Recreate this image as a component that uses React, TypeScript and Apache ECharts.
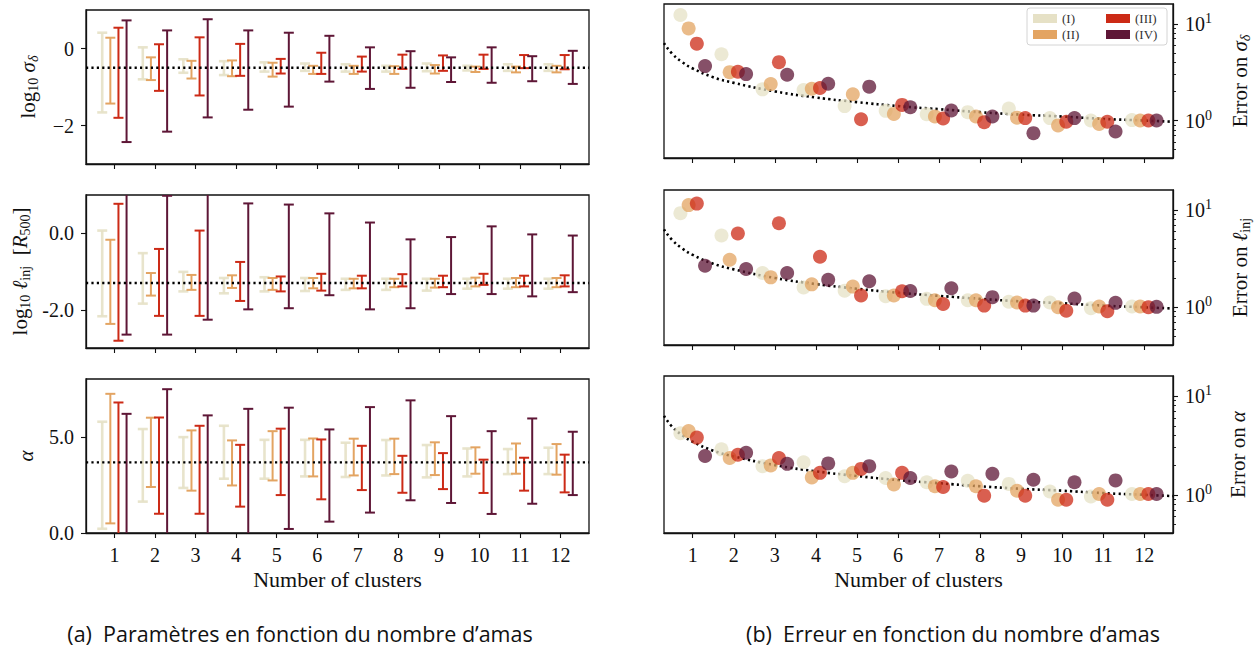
import React, { useEffect, useRef } from 'react';
import * as echarts from 'echarts';

// ---------------- DATA ----------------
const clusters = [1, 2, 3, 4, 5, 6, 7, 8, 9, 10, 11, 12];
const seriesNames = ['(I)', '(II)', '(III)', '(IV)'];
const dodge = [-0.3, -0.1, 0.1, 0.3];

// left (a): [low, high] error bars per number of clusters
const sigmaI = [[-1.66, 0.41], [-0.8, 0.03], [-0.63, -0.28], [-0.69, -0.33], [-0.6, -0.36], [-0.58, -0.39], [-0.6, -0.41], [-0.6, -0.45], [-0.59, -0.39], [-0.57, -0.45], [-0.58, -0.41], [-0.58, -0.41]];
const sigmaII = [[-1.43, 0.28], [-0.82, -0.23], [-0.78, -0.32], [-0.72, -0.31], [-0.73, -0.37], [-0.66, -0.45], [-0.66, -0.45], [-0.66, -0.46], [-0.65, -0.43], [-0.61, -0.47], [-0.62, -0.47], [-0.62, -0.45]];
const sigmaIII = [[-1.8, 0.54], [-1.1, 0.11], [-1.22, 0.29], [-0.71, 0.12], [-0.65, -0.27], [-0.66, -0.11], [-0.6, -0.21], [-0.53, -0.16], [-0.58, -0.18], [-0.53, -0.16], [-0.51, -0.17], [-0.54, -0.17]];
const sigmaIV = [[-2.43, 0.73], [-2.16, 0.47], [-1.79, 0.76], [-1.59, 0.47], [-1.51, 0.41], [-0.86, 0.33], [-1.05, 0.03], [-1.02, -0.07], [-0.87, -0.23], [-0.89, 0.03], [-0.85, -0.2], [-0.92, -0.06]];
const sigmaTrue = -0.5;

const linjI = [[-2.17, 0.07], [-1.84, -0.52], [-1.52, -1.01], [-1.57, -1.17], [-1.52, -1.15], [-1.51, -1.17], [-1.48, -1.19], [-1.48, -1.19], [-1.5, -1.19], [-1.45, -1.19], [-1.45, -1.19], [-1.45, -1.19]];
const linjII = [[-2.37, -0.17], [-1.63, -1.04], [-1.48, -1.09], [-1.43, -1.1], [-1.48, -1.17], [-1.44, -1.17], [-1.44, -1.19], [-1.41, -1.19], [-1.42, -1.19], [-1.39, -1.16], [-1.41, -1.17], [-1.41, -1.17]];
const linjIII = [[-2.81, 0.77], [-2.16, -0.41], [-2.16, 0.07], [-1.77, -0.75], [-1.52, -1.13], [-1.5, -1.06], [-1.44, -1.11], [-1.39, -1.07], [-1.41, -1.11], [-1.35, -1.06], [-1.39, -1.11], [-1.39, -1.1]];
const linjIV = [[-2.65, 1.3], [-2.65, 0.98], [-2.26, 1.2], [-1.99, 0.78], [-1.96, 0.75], [-1.62, 0.52], [-1.99, 0.28], [-1.96, -0.16], [-1.59, -0.1], [-1.59, 0.18], [-1.65, -0.03], [-1.54, -0.06]];
const linjTrue = -1.3;

const alphaI = [[0.22, 5.78], [1.63, 5.4], [2.34, 4.98], [2.82, 5.57], [2.82, 4.84], [2.94, 4.84], [2.91, 4.69], [2.99, 4.83], [2.89, 4.57], [2.94, 4.39], [3.06, 4.36], [3.06, 4.43]];
const alphaII = [[0.5, 7.23], [2.39, 5.99], [2.2, 5.33], [2.47, 4.81], [2.73, 5.29], [2.94, 4.91], [2.99, 4.9], [3.06, 4.9], [3.01, 4.71], [3.08, 4.45], [3.08, 4.65], [3.03, 4.62]];
const alphaIII = [[-0.3, 6.78], [1.0, 6.0], [1.0, 5.57], [1.37, 4.58], [1.97, 5.42], [1.75, 4.86], [2.23, 4.53], [2.09, 4.01], [2.28, 4.15], [2.08, 3.81], [2.2, 3.91], [2.11, 4.07]];
const alphaIV = [[-0.5, 6.19], [-0.5, 7.47], [-0.4, 6.11], [-0.3, 6.45], [0.21, 6.51], [0.59, 5.38], [1.06, 6.54], [1.7, 6.89], [1.56, 6.07], [0.99, 5.29], [1.52, 5.95], [1.97, 5.26]];
const alphaTrue = 3.67;

// right (b): relative errors
const errSigmaI = [12.3, 4.84, 2.1, 2.07, 1.41, 1.26, 1.16, 1.22, 1.33, 1.06, 1.0, 1.01];
const errSigmaII = [8.95, 3.16, 2.38, 2.13, 1.87, 1.17, 1.1, 1.1, 1.07, 0.89, 0.92, 1.0];
const errSigmaIII = [6.23, 3.19, 4.01, 2.17, 1.03, 1.45, 1.05, 0.96, 1.06, 0.97, 0.97, 1.0];
const errSigmaIV = [3.65, 3.02, 2.97, 2.4, 2.24, 1.37, 1.27, 1.1, 0.74, 1.06, 0.77, 1.0];

const errLinjI = [9.25, 5.46, 2.25, 1.6, 1.48, 1.3, 1.22, 1.18, 1.14, 1.12, 0.98, 1.02];
const errLinjII = [11.2, 3.08, 2.03, 1.72, 1.63, 1.32, 1.18, 1.18, 1.12, 1.0, 1.02, 1.02];
const errLinjIII = [11.6, 5.72, 7.3, 3.3, 1.32, 1.46, 1.08, 1.04, 1.04, 0.92, 0.91, 1.0];
const errLinjIV = [2.67, 2.47, 2.25, 1.92, 1.85, 1.47, 1.57, 1.27, 1.04, 1.23, 1.11, 1.01];

const errAlphaI = [4.21, 2.89, 1.95, 2.14, 1.54, 1.48, 1.34, 1.39, 1.29, 1.08, 0.96, 1.02];
const errAlphaII = [4.42, 2.36, 1.98, 1.5, 1.67, 1.27, 1.22, 1.22, 1.1, 0.89, 1.02, 1.02];
const errAlphaIII = [3.8, 2.55, 2.36, 1.67, 1.83, 1.67, 1.2, 0.98, 0.98, 0.89, 0.89, 1.02];
const errAlphaIV = [2.47, 2.67, 2.06, 2.08, 1.95, 1.48, 1.72, 1.63, 1.42, 1.34, 1.4, 1.02];

// dotted reference curve
const refCurveX = [0.3, 0.5, 0.75, 1, 1.5, 2, 3, 4, 5, 6, 7, 8, 9, 10, 11, 12, 12.7];
const refCurveY = [6.3, 4.9, 4.0, 3.45, 2.8, 2.45, 2.0, 1.73, 1.55, 1.41, 1.31, 1.22, 1.15, 1.1, 1.04, 1.0, 0.97];

// tick values
const xTicks = clusters;
const sigmaTicks = [-2, 0];
const linjTicks = [-2, 0];
const alphaTicks = [0, 5];
const errMajorTicks = [1, 10];
const errMinorTicks = [0.5, 0.6, 0.7, 0.8, 0.9, 2, 3, 4, 5, 6, 7, 8, 9];

// ---------------- STYLE ----------------
const colors = ['#e6e1c6', '#e3a462', '#cc2a16', '#5e1636'];
const barWidths = [2.6, 2, 2, 2];
const serif = "'Liberation Serif', 'DejaVu Serif', serif";
const sans = "'Open Sans', 'Noto Sans', sans-serif";
const dotted = [2.2, 3.2];

const rich = {
  t: { fontSize: 21, fontFamily: serif, color: '#111' },
  i: { fontSize: 21, fontFamily: serif, fontStyle: 'italic', color: '#111' },
  s: { fontSize: 14, fontFamily: serif, color: '#111', padding: [11, 0, 0, 0] },
  si: { fontSize: 14, fontFamily: serif, fontStyle: 'italic', color: '#111', padding: [11, 0, 0, 0] },
  b: { fontSize: 20, fontFamily: serif, color: '#111' },
  p: { fontSize: 14, fontFamily: serif, color: '#111', padding: [0, 0, 11, 0] },
};

export default function App() {
  const ref = useRef<HTMLDivElement>(null);

  useEffect(() => {
    document.body.style.margin = '0';
    const chart = echarts.init(ref.current!, null, { renderer: 'svg' });

    const leftGrids = [
      { left: 86, top: 10, width: 503, height: 154 },
      { left: 86, top: 195, width: 503, height: 153 },
      { left: 86, top: 379, width: 503, height: 154 },
    ];
    const rightGrids = [
      { left: 664, top: 4, width: 509, height: 154 },
      { left: 664, top: 190, width: 509, height: 155 },
      { left: 664, top: 376, width: 509, height: 157 },
    ];
    const grid = [...leftGrids, ...rightGrids].map((g) => ({
      ...g,
      show: true,
      borderColor: '#111',
      borderWidth: 1.3,
      backgroundColor: 'transparent',
      containLabel: false,
    }));

    const xAxis = [0, 1, 2, 3, 4, 5].map((gi) => {
      const showLabel = gi === 2 || gi === 5;
      return {
        type: 'value',
        gridIndex: gi,
        min: 0.3,
        max: 12.7,
        axisLine: { show: true, onZero: false, lineStyle: { color: '#111', width: 1.3 } },
        axisTick: { show: true, customValues: xTicks, length: 5, lineStyle: { color: '#111', width: 1.1 } },
        axisLabel: {
          show: showLabel,
          customValues: xTicks,
          margin: 12,
          fontFamily: serif,
          fontSize: 20,
          color: '#111',
        },
        splitLine: { show: false },
        name: showLabel ? 'Number of clusters' : '',
        nameLocation: 'middle',
        nameGap: 35,
        nameTextStyle: { fontFamily: serif, fontSize: 22, color: '#111' },
      };
    });

    const leftY = (
      gi: number,
      min: number,
      max: number,
      ticks: number[],
      fmt: (v: number) => string,
      name: string,
      nameGap: number
    ) => ({
      type: 'value',
      gridIndex: gi,
      min,
      max,
      axisLine: { show: true, onZero: false, lineStyle: { color: '#111', width: 1.3 } },
      axisTick: { show: true, customValues: ticks, length: 5, lineStyle: { color: '#111', width: 1.1 } },
      axisLabel: { customValues: ticks, formatter: fmt, margin: 12, fontFamily: serif, fontSize: 20, color: '#111' },
      splitLine: { show: false },
      name,
      nameLocation: 'middle',
      nameRotate: 90,
      nameGap,
      nameTextStyle: { rich },
    });

    const rightMajor = (gi: number, name: string) => ({
      type: 'log',
      logBase: 10,
      gridIndex: gi,
      position: 'right',
      min: 0.41,
      max: 16,
      axisLine: { show: true, onZero: false, lineStyle: { color: '#111', width: 1.3 } },
      axisTick: { show: true, customValues: errMajorTicks, length: 5, lineStyle: { color: '#111', width: 1.1 } },
      axisLabel: {
        customValues: errMajorTicks,
        margin: 12,
        formatter: (v: number) => `{b|10}{p|${Math.round(Math.log10(v))}}`,
        rich,
      },
      splitLine: { show: false },
      name,
      nameLocation: 'middle',
      nameRotate: 90,
      nameGap: 54,
      nameTextStyle: { rich },
    });

    const rightMinor = (gi: number) => ({
      type: 'log',
      logBase: 10,
      gridIndex: gi,
      position: 'right',
      min: 0.41,
      max: 16,
      axisLine: { show: false, onZero: false },
      axisTick: { show: true, customValues: errMinorTicks, length: 3, lineStyle: { color: '#111', width: 0.9 } },
      axisLabel: { show: false },
      splitLine: { show: false },
    });

    const yAxis = [
      leftY(0, -3, 1, sigmaTicks, (v) => (v === 0 ? '0' : '\u22122'), '{t|log}{s|10}{t| }{i|σ}{si|δ}', 46),
      leftY(1, -3, 1, linjTicks, (v) => (v === 0 ? '0.0' : '-2.0'), '{t|log}{s|10}{t| }{i|ℓ}{s|inj}{t|  [}{i|R}{s|500}{t|]}', 54),
      leftY(2, 0, 8, alphaTicks, (v) => v.toFixed(1), '{i|α}', 50),
      rightMajor(3, '{t|Error on }{i|σ}{si|δ}'),
      rightMajor(4, '{t|Error on }{i|ℓ}{s|inj}'),
      rightMajor(5, '{t|Error on }{i|α}'),
      rightMinor(3),
      rightMinor(4),
      rightMinor(5),
    ];

    const leftSets = [
      [sigmaI, sigmaII, sigmaIII, sigmaIV],
      [linjI, linjII, linjIII, linjIV],
      [alphaI, alphaII, alphaIII, alphaIV],
    ];
    const leftTrue = [sigmaTrue, linjTrue, alphaTrue];
    const rightSets = [
      [errSigmaI, errSigmaII, errSigmaIII, errSigmaIV],
      [errLinjI, errLinjII, errLinjIII, errLinjIV],
      [errAlphaI, errAlphaII, errAlphaIII, errAlphaIV],
    ];

    const series: any[] = [];
    leftSets.forEach((set, pi) => {
      set.forEach((d, si) => {
        const color = colors[si];
        const lw = barWidths[si];
        series.push({
          type: 'custom',
          name: seriesNames[si],
          xAxisIndex: pi,
          yAxisIndex: pi,
          clip: true,
          itemStyle: { color },
          encode: { x: 0, y: [1, 2] },
          data: d.map((v, i) => [clusters[i] + dodge[si], v[0], v[1]]),
          renderItem: (params: any, api: any) => {
            const x = api.value(0);
            const p0 = api.coord([x, api.value(1)]);
            const p1 = api.coord([x, api.value(2)]);
            const hw = 5;
            const style = { stroke: color, lineWidth: lw, fill: null, opacity: si === 0 ? 0.9 : 1 };
            return {
              type: 'group',
              children: [
                { type: 'line', shape: { x1: p0[0], y1: p0[1], x2: p1[0], y2: p1[1] }, style },
                { type: 'line', shape: { x1: p0[0] - hw, y1: p0[1], x2: p0[0] + hw, y2: p0[1] }, style },
                { type: 'line', shape: { x1: p1[0] - hw, y1: p1[1], x2: p1[0] + hw, y2: p1[1] }, style },
              ],
            };
          },
          z: 3,
        });
      });
      series.push({
        type: 'line',
        name: 'truth',
        xAxisIndex: pi,
        yAxisIndex: pi,
        data: [
          [0.3, leftTrue[pi]],
          [12.7, leftTrue[pi]],
        ],
        showSymbol: false,
        symbol: 'none',
        lineStyle: { color: '#000', width: 2.4, type: dotted },
        z: 5,
      });
    });

    rightSets.forEach((set, pi) => {
      series.push({
        type: 'line',
        name: 'ref',
        xAxisIndex: 3 + pi,
        yAxisIndex: 3 + pi,
        data: refCurveX.map((x, i) => [x, refCurveY[i]]),
        smooth: true,
        showSymbol: false,
        symbol: 'none',
        lineStyle: { color: '#000', width: 2.6, type: dotted },
        z: 2,
      });
      set.forEach((d, si) => {
        series.push({
          type: 'scatter',
          name: seriesNames[si],
          xAxisIndex: 3 + pi,
          yAxisIndex: 3 + pi,
          data: d.map((v, i) => [clusters[i] + dodge[si], v]),
          symbol: 'circle',
          symbolSize: 14,
          itemStyle: { color: colors[si], opacity: 0.75 },
          z: 3,
        });
      });
    });

    chart.setOption({
      animation: false,
      grid,
      xAxis,
      yAxis,
      series,
      legend: {
        left: 1027,
        top: 8,
        height: 30,
        orient: 'vertical',
        padding: [4, 6, 4, 6],
        itemGap: 3,
        itemWidth: 24,
        itemHeight: 9,
        icon: 'rect',
        borderColor: '#d4d4d4',
        borderWidth: 1,
        borderRadius: 3,
        backgroundColor: 'rgba(255,255,255,0.85)',
        formatter: (name: string) => (name === '(I)' || name === '(II)' ? `{a|${name}}` : `{c|${name}}`),
        textStyle: {
          fontFamily: serif,
          fontSize: 13,
          color: '#333',
          rich: {
            a: { fontFamily: serif, fontSize: 13, color: '#333', width: 41, lineHeight: 13 },
            c: { fontFamily: serif, fontSize: 13, color: '#333', width: 26, lineHeight: 13 },
          },
        },
        data: [
          { name: '(I)', itemStyle: { color: colors[0], opacity: 1 } },
          { name: '(II)', itemStyle: { color: colors[1], opacity: 1 } },
          { name: '(III)', itemStyle: { color: colors[2], opacity: 1 } },
          { name: '(IV)', itemStyle: { color: colors[3], opacity: 1 } },
        ],
      },
      graphic: [
        {
          type: 'text',
          x: 300,
          y: 633,
          style: {
            text: '(a)  Paramètres en fonction du nombre d’amas',
            fontFamily: sans,
            fontSize: 21.5,
            fill: '#111',
            align: 'center',
            verticalAlign: 'middle',
          },
        },
        {
          type: 'text',
          x: 953,
          y: 633,
          style: {
            text: '(b)  Erreur en fonction du nombre d’amas',
            fontFamily: sans,
            fontSize: 21.5,
            fill: '#111',
            align: 'center',
            verticalAlign: 'middle',
          },
        },
      ],
    });

    return () => chart.dispose();
  }, []);

  return <div ref={ref} style={{ position: 'absolute', left: 0, top: 0, width: 1256, height: 651 }} />;
}
